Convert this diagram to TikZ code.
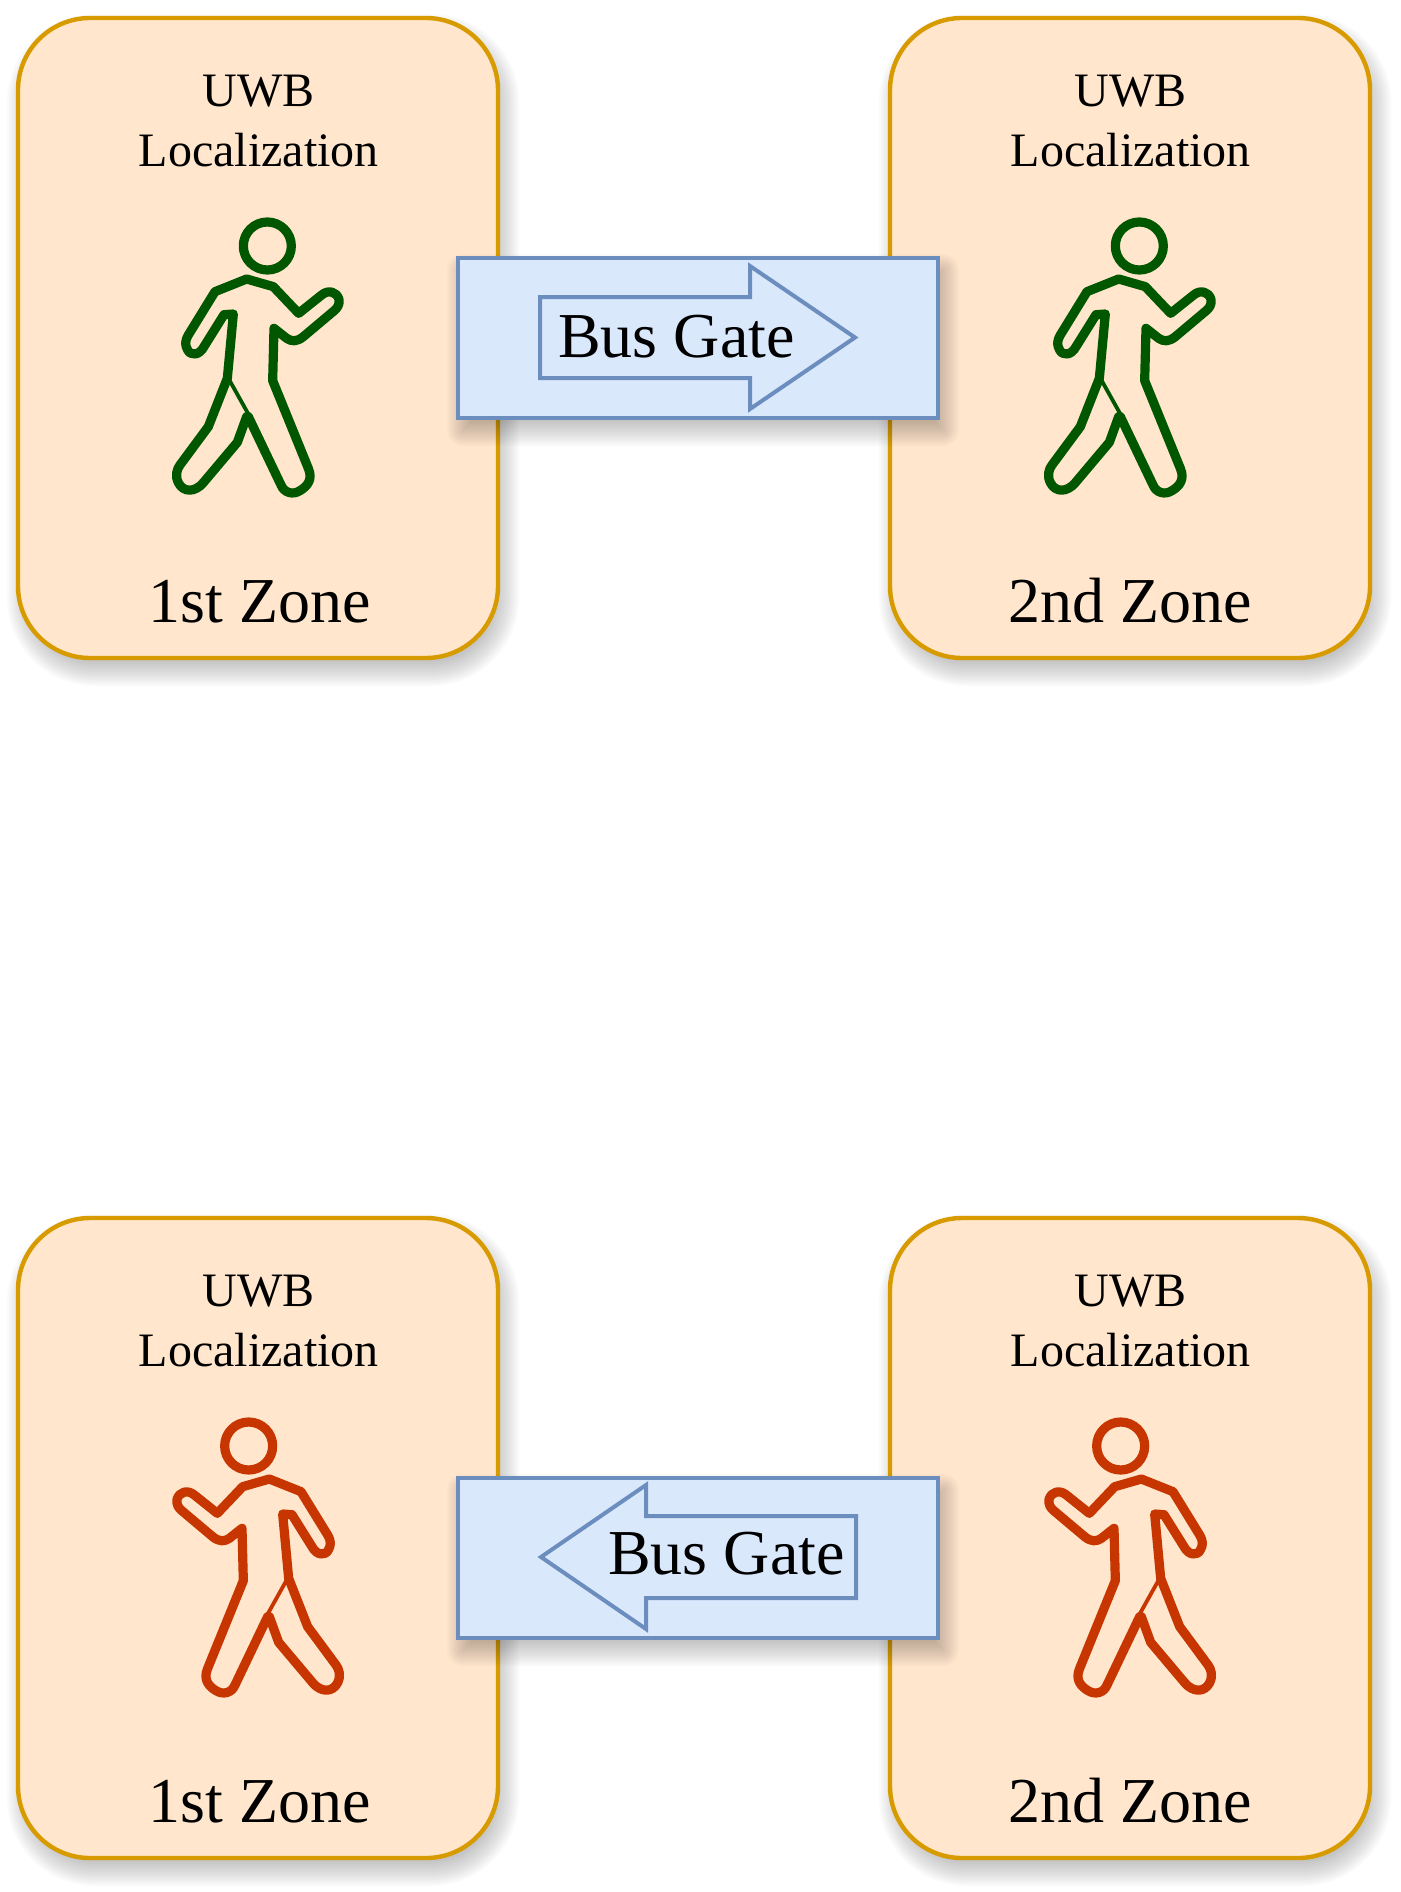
\documentclass[tikz,border=0pt]{standalone}
\usepackage{fontspec}
\setmainfont{Liberation Serif}
\definecolor{zonefill}{HTML}{FFE6CC}
\definecolor{zoneline}{HTML}{D79B00}
\definecolor{gatefill}{HTML}{DAE8FC}
\definecolor{gateline}{HTML}{6C8EBF}
\definecolor{walkgreen}{HTML}{005700}
\definecolor{walkred}{HTML}{C73500}
\tikzset{
  shadowlayer/.style={fill=black,fill opacity=0.021,draw=none},
  zonebox/.style={draw=zoneline,fill=zonefill,line width=4.4pt,rounded corners=72pt,minimum width=480pt,minimum height=640pt,inner sep=0pt},
  gatebox/.style={draw=gateline,fill=gatefill,line width=4.4pt,minimum width=480pt,minimum height=160pt,inner sep=0pt},
  gatearrow/.style={draw=gateline,line width=4pt,miter limit=10},
  uwbtext/.style={anchor=base,inner sep=0pt,align=center,font=\fontsize{48}{60}\selectfont},
  zonetext/.style={anchor=base,inner sep=0pt,font=\fontsize{64}{76}\selectfont},
  gatetext/.style={anchor=base west,inner sep=0pt,font=\fontsize{64}{76}\selectfont},
}
% soft shadow: #1,#2 = centre, #3,#4 = half sizes, #5 = corner radius
\newcommand{\softshade}[5]{%
  \foreach \d in {-16,-14,...,16}{%
    \pgfmathsetmacro{\rr}{max(#5+\d,0.01)}%
    \fill[shadowlayer,rounded corners=\rr pt]
      ({#1+5-#3-\d},{#2+12-#4-\d}) rectangle ({#1+5+#3+\d},{#2+12+#4+\d});
  }}
\newcommand{\walkerfig}[4]{%
  \begin{scope}[shift={(#1,#2)},x=#3*0.33333pt,y=-0.33333pt,line join=round,line cap=round]
    \draw[#4,line width=9.2pt] (382,168) circle[radius=72*0.33333pt];
    \draw[#4,line width=9.2pt]
      (320,267) -- (400,290) -- (476,370) -- (545,315)
      .. controls (565,298) and (590,305) .. (597,328)
      .. controls (600,345) and (590,355) .. (585,360)
      -- (490,440) .. controls (470,456) and (455,455) .. (440,445)
      -- (402,415) -- (398,572) -- (505,835)
      .. controls (520,870) and (500,890) .. (480,902)
      .. controls (458,916) and (432,908) .. (423,885)
      -- (325,680) -- (320,680) -- (292,757) -- (190,878)
      .. controls (165,908) and (130,908) .. (115,878)
      .. controls (105,858) and (110,838) .. (120,825)
      -- (205,710) -- (262,565) -- (280,372) -- (252,374) -- (192,470)
      .. controls (178,497) and (152,498) .. (143,480)
      .. controls (135,465) and (134,455) .. (145,435)
      -- (225,305) -- cycle;
    \draw[#4,line width=3.8pt] (268,570) -- (325,672);
  \end{scope}}
\begin{document}
\begin{tikzpicture}[x=1pt,y=-1pt]
  \useasboundingbox (0,0) rectangle (1400,1892);
  % zones
  \softshade{258}{338}{240}{320}{72}
  \softshade{1130}{338}{240}{320}{72}
  \softshade{258}{1538}{240}{320}{72}
  \softshade{1130}{1538}{240}{320}{72}
  \node[zonebox] (zoneA) at (258,338) {};
  \node[zonebox] (zoneB) at (1130,338) {};
  \node[zonebox] (zoneC) at (258,1538) {};
  \node[zonebox] (zoneD) at (1130,1538) {};
  % zone texts
  \node[uwbtext] (uwbA) at (258.7,166) {UWB\\Localization};
  \node[uwbtext] (uwbB) at (1130.7,166) {UWB\\Localization};
  \node[uwbtext] (uwbC) at (258.7,1366) {UWB\\Localization};
  \node[uwbtext] (uwbD) at (1130.7,1366) {UWB\\Localization};
  \node[zonetext] (nameA) at (259.5,622) {1st Zone};
  \node[zonetext] (nameB) at (1130.5,622) {2nd Zone};
  \node[zonetext] (nameC) at (259.5,1822) {1st Zone};
  \node[zonetext] (nameD) at (1130.5,1822) {2nd Zone};
  % walkers
  \walkerfig{140}{190}{1}{walkgreen}
  \walkerfig{1012}{190}{1}{walkgreen}
  \walkerfig{376}{1390}{-1}{walkred}
  \walkerfig{1248}{1390}{-1}{walkred}
  % gates
  \softshade{698}{338}{240}{80}{0}
  \softshade{698}{1558}{240}{80}{0}
  \node[gatebox] (gateTop) at (698,338) {};
  \node[gatebox] (gateBottom) at (698,1558) {};
  \draw[gatearrow] (540,297) -- (750,297) -- (750,266) -- (855,337.5) -- (750,409) -- (750,378) -- (540,378) -- cycle;
  \draw[gatearrow] (856,1516) -- (646,1516) -- (646,1485) -- (541,1557) -- (646,1629) -- (646,1598) -- (856,1598) -- cycle;
  \node[gatetext] (busTop) at (558,357) {Bus Gate};
  \node[gatetext] (busBottom) at (608,1574) {Bus Gate};
\end{tikzpicture}
\end{document}
